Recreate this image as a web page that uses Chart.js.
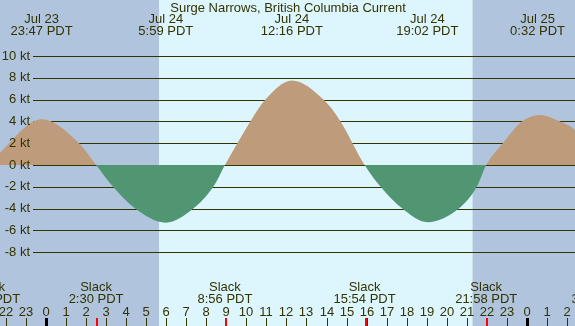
<!DOCTYPE html>
<html lang="en">
<head>
    <meta charset="UTF-8">
    <title>Surge Narrows Current</title>
    <script src="https://cdn.jsdelivr.net/npm/chart.js"></script>
    <style>
        body { margin: 0; background: #b0c4de; }
        #chart { display: block; }
    </style>
</head>
<body>
    <canvas id="chart" width="575" height="326"></canvas>
    <script>
        // hours from midnight Jul 24 (negative = Jul 23, >24 = Jul 25)
        const currentHours = [-2.84, -2.3, -0.22, 1.65, 2.5, 3.35, 4.45, 5.98, 7.35, 8.35, 8.93, 9.55, 10.2, 10.95, 12.27, 13.85, 14.7, 15.9, 16.7, 17.78, 19.03, 20.6, 21.5, 21.97, 22.8, 23.75, 24.6, 25.65, 26.4, 27.6];
        const currentKnots = [0, 1.1, 4.2, 2.0, 0, -2, -4, -5.3, -4, -2, 0, 2, 4, 6, 7.75, 6, 4, 0, -2, -4, -5.25, -4, -2, 0, 2, 4, 4.6, 4, 3.2, 0];

        const extremeHours = [-0.22, 5.98, 12.27, 19.03, 24.53];
        const extremeDates = ["Jul 23", "Jul 24", "Jul 24", "Jul 24", "Jul 25"];
        const extremeTimes = ["23:47 PDT", "5:59 PDT", "12:16 PDT", "19:02 PDT", "0:32 PDT"];

        const slackHours = [-2.84, 2.5, 8.93, 15.9, 21.97, 27.6];
        const slackTimes = ["21:10 PDT", "2:30 PDT", "8:56 PDT", "15:54 PDT", "21:58 PDT", "3:36 PDT"];

        const hourTicks = [-2, -1, 0, 1, 2, 3, 4, 5, 6, 7, 8, 9, 10, 11, 12, 13, 14, 15, 16, 17, 18, 19, 20, 21, 22, 23, 24, 25, 26];
        const knotTicks = [10, 8, 6, 4, 2, 0, -2, -4, -6, -8];

        const sunrise = 5.64;
        const sunset = 21.29;

        const ink = "#333300";
        const font = "13px 'Liberation Sans', Arial, sans-serif";

        const bgPlugin = {
            id: "tideBg",
            beforeDatasetsDraw(chart) {
                const ctx = chart.ctx;
                const x = chart.scales.x;
                const y = chart.scales.y;
                ctx.save();
                ctx.fillStyle = "#b0c4de";
                ctx.fillRect(0, 0, chart.width, chart.height);
                const x0 = x.getPixelForValue(sunrise);
                const x1 = x.getPixelForValue(sunset);
                ctx.fillStyle = "#ddf6fe";
                ctx.fillRect(x0, 0, x1 - x0, chart.height);

                // knot lines sit behind the fill
                ctx.strokeStyle = ink;
                ctx.lineWidth = 1;
                knotTicks.forEach(k => {
                    const py = Math.round(y.getPixelForValue(k)) + 0.5;
                    ctx.beginPath();
                    ctx.moveTo(33, py);
                    ctx.lineTo(chart.width, py);
                    ctx.stroke();
                });
                ctx.restore();
            },
            afterDatasetsDraw(chart) {
                const ctx = chart.ctx;
                const x = chart.scales.x;
                const y = chart.scales.y;
                ctx.save();
                ctx.font = font;
                ctx.fillStyle = ink;
                ctx.textBaseline = "middle";

                ctx.textAlign = "right";
                knotTicks.forEach(k => {
                    ctx.fillText(k + " kt", 30, y.getPixelForValue(k));
                });

                ctx.textAlign = "center";
                ctx.fillText("Surge Narrows, British Columbia Current", 288, 8);

                extremeHours.forEach((h, i) => {
                    const px = x.getPixelForValue(h);
                    ctx.fillText(extremeDates[i], px, 19);
                    ctx.fillText(extremeTimes[i], px, 31);
                });

                slackHours.forEach((h, i) => {
                    const px = x.getPixelForValue(h);
                    ctx.fillText("Slack", px, 287);
                    ctx.fillText(slackTimes[i], px, 299);
                });

                hourTicks.forEach(h => {
                    const px = Math.round(x.getPixelForValue(h));
                    const label = ((h % 24) + 24) % 24;
                    ctx.fillStyle = ink;
                    ctx.fillText(String(label), px, 312);
                    if (label === 0) {
                        ctx.fillStyle = "#000000";
                        ctx.fillRect(px - 1, 318, 3, 8);
                    } else {
                        ctx.fillRect(px, 318, 1, 8);
                    }
                });

                ctx.fillStyle = "#ff0000";
                slackHours.forEach(h => {
                    const px = Math.round(x.getPixelForValue(h));
                    ctx.fillRect(px, 318, 2, 8);
                });
                ctx.restore();
            }
        };

        const points = currentHours.map((h, i) => ({ x: h, y: currentKnots[i] }));

        new Chart(document.getElementById("chart"), {
            type: "line",
            data: {
                datasets: [{
                    data: points,
                    borderWidth: 0,
                    pointRadius: 0,
                    cubicInterpolationMode: "monotone",
                    fill: { target: "origin", above: "#be9c7b", below: "#519673" }
                }]
            },
            options: {
                responsive: false,
                devicePixelRatio: 1,
                animation: false,
                layout: { padding: 0 },
                plugins: { legend: { display: false }, tooltip: { enabled: false } },
                scales: {
                    x: { type: "linear", display: false, min: -2.295, max: 26.40 },
                    y: { type: "linear", display: false, min: -14.77, max: 15.14 }
                }
            },
            plugins: [bgPlugin]
        });
    </script>
</body>
</html>
